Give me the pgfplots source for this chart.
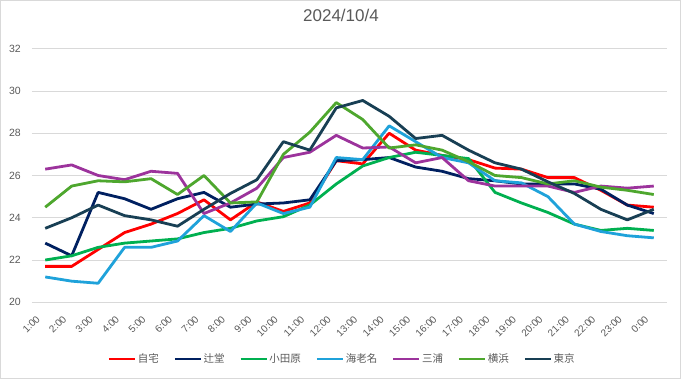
\documentclass[border=0pt]{standalone}
\usepackage{fontspec}
\setmainfont{Liberation Sans}
\newfontfamily\cjk{Noto Sans CJK JP}
\usepackage{pgfplots}
\usepackage{pgfplotstable}
\pgfplotsset{compat=1.18}
\definecolor{txt}{HTML}{595959}
\definecolor{gridc}{HTML}{D9D9D9}
\definecolor{cJitaku}{HTML}{FF0000}
\definecolor{cTsujido}{HTML}{002060}
\definecolor{cOdawara}{HTML}{00B050}
\definecolor{cEbina}{HTML}{1FA2DA}
\definecolor{cMiura}{HTML}{9C339C}
\definecolor{cYokohama}{HTML}{4EA72E}
\definecolor{cTokyo}{HTML}{183F54}

\pgfplotstableread{
i  jt    ts    od    eb    mi    yo    tk
1  21.7  22.8  22.0  21.2  26.3  24.5  23.5
2  21.7  22.2  22.2  21.0  26.5  25.5  24.0
3  22.5  25.2  22.6  20.9  26.0  25.75 24.6
4  23.3  24.9  22.8  22.6  25.8  25.7  24.1
5  23.7  24.4  22.9  22.6  26.2  25.85 23.9
6  24.2  24.9  23.0  22.9  26.1  25.1  23.6
7  24.85 25.2  23.3  24.1  24.2  26.0  24.4
8  23.9  24.5  23.5  23.35 24.7  24.7  25.15
9  24.75 24.65 23.85 24.7  25.4  24.75 25.8
10 24.3  24.7  24.05 24.2  26.85 27.0  27.6
11 24.7  24.85 24.6  24.5  27.1  28.05 27.2
12 26.7  26.7  25.6  26.85 27.9  29.45 29.2
13 26.55 26.75 26.45 26.75 27.3  28.65 29.55
14 28.0  26.85 26.85 28.35 27.35 27.3  28.8
15 27.2  26.4  27.1  27.6  26.6  27.45 27.75
16 26.95 26.2  26.95 26.85 26.85 27.2  27.9
17 26.75 25.85 26.8  26.6  25.75 26.65 27.2
18 26.35 25.75 25.2  25.75 25.5  26.0  26.6
19 26.3  25.6  24.7  25.65 25.5  25.9  26.3
20 25.9  25.6  24.25 25.0  25.5  25.6  25.7
21 25.9  25.6  23.7  23.7  25.2  25.75 25.15
22 25.3  25.35 23.4  23.35 25.5  25.45 24.4
23 24.6  24.6  23.5  23.15 25.4  25.3  23.9
24 24.5  24.2  23.4  23.05 25.5  25.1  24.4
}\datatable

\begin{document}
\begin{tikzpicture}
\path[use as bounding box] (-32pt,-76.7pt) rectangle (649pt,302.3pt);
\draw[color=gridc, line width=0.75pt] (-31.6pt,-76.3pt) rectangle (648.6pt,301.9pt);
\begin{axis}[
  at={(0pt,0pt)}, anchor=south west,
  scale only axis, width=635pt, height=253.6pt,
  xmin=0.5, xmax=24.5, ymin=20, ymax=32,
  xtick={1,...,24},
  xticklabels={1:00,2:00,3:00,4:00,5:00,6:00,7:00,8:00,9:00,10:00,11:00,12:00,13:00,14:00,15:00,16:00,17:00,18:00,19:00,20:00,21:00,22:00,23:00,0:00},
  ytick={20,22,...,32},
  ymajorgrids, grid style={color=gridc, line width=0.75pt},
  axis line style={draw=none},
  major tick length=0pt,
  /pgf/number format/assume math mode=true,
  yticklabel style={font=\fontsize{10.5}{12}\selectfont, text=txt, anchor=east, inner sep=0pt, xshift=-11pt},
  xticklabel style={font=\fontsize{10}{12}\selectfont, text=txt, xshift=-7pt, yshift=-15.2pt, rotate=45, anchor=east, inner sep=0pt},
  title={2024/10/4},
  title style={at={(axis description cs:0.4866,1)}, anchor=center, yshift=27pt, font=\fontsize{17}{19}\selectfont, text=txt},
  legend columns=7,
  legend style={at={(axis description cs:0.488,-0.2236)}, anchor=center, draw=none, fill=none,
    font=\cjk\fontsize{10.5}{12}\selectfont, text=txt,
    /tikz/every even column/.append style={column sep=13pt},
    nodes={inner sep=1.5pt}},
  legend image code/.code={\draw[#1, line width=2.8pt] (0pt,0pt) -- (26pt,0pt);},
  every axis plot/.append style={line width=2.8pt, line join=round, mark=none},
]
\addplot[cJitaku] table[x=i, y=jt] {\datatable};
\addlegendentry{自宅}
\addplot[cTsujido] table[x=i, y=ts] {\datatable};
\addlegendentry{辻堂}
\addplot[cOdawara] table[x=i, y=od] {\datatable};
\addlegendentry{小田原}
\addplot[cEbina] table[x=i, y=eb] {\datatable};
\addlegendentry{海老名}
\addplot[cMiura] table[x=i, y=mi] {\datatable};
\addlegendentry{三浦}
\addplot[cYokohama] table[x=i, y=yo] {\datatable};
\addlegendentry{横浜}
\addplot[cTokyo] table[x=i, y=tk] {\datatable};
\addlegendentry{東京}
\end{axis}
\end{tikzpicture}
\end{document}
